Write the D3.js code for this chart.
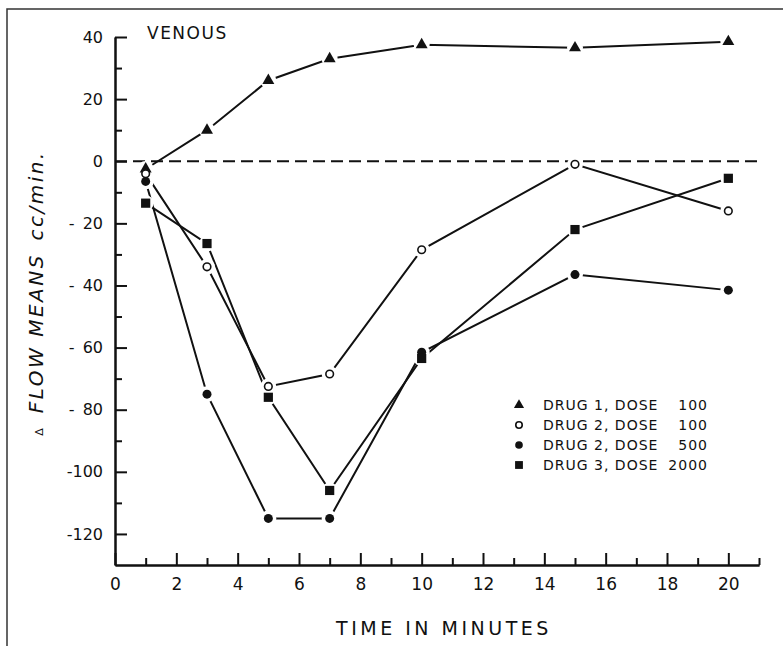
<!DOCTYPE html>
<html>
<head>
<meta charset="utf-8">
<script src="https://cdn.jsdelivr.net/npm/d3@7"></script>
<style>
  body { margin: 0; background: #fff; }
  svg { display: block; }
  text { font-family: "DejaVu Sans", sans-serif; fill: #111; }
</style>
</head>
<body>
<div id="chart"></div>
<script>
// time points (minutes)
const times = [1, 3, 5, 7, 10, 15, 20];

// change in flow, cc/min
const drug1Dose100  = [-2.5, 10, 26, 33, 37.5, 36.5, 38.5];
const drug2Dose100  = [-4, -34, -72.5, -68.5, -28.5, -1, -16];
const drug2Dose500  = [-6.5, -75, -115, -115, -61.5, -36.5, -41.5];
const drug3Dose2000 = [-13.5, -26.5, -76, -106, -63.5, -22, -5.5];

const seriesNames  = ['DRUG 1, DOSE', 'DRUG 2, DOSE', 'DRUG 2, DOSE', 'DRUG 3, DOSE'];
const seriesDoses  = ['100', '100', '500', '2000'];

const xTicks      = [0, 2, 4, 6, 8, 10, 12, 14, 16, 18, 20];
const xTickLabels = ['0', '2', '4', '6', '8', '10', '12', '14', '16', '18', '20'];
const yTicks      = [40, 20, 0, -20, -40, -60, -80, -100, -120];
const yTickLabels = ['40', '20', '0', '-\u200220', '-\u200240', '-\u200260', '-\u200280', '-100', '-120'];

const width = 783, height = 646;

const x = d3.scaleLinear().domain([0, 21]).range([115, 759]);
const y = d3.scaleLinear().domain([-130, 40]).range([565, 37]);

const svg = d3.select('#chart').append('svg')
    .attr('width', width)
    .attr('height', height);

svg.append('rect').attr('width', width).attr('height', height).attr('fill', '#fff');

// scanned frame: left and top edges only
svg.append('path')
    .attr('d', `M7,${height} V9 H${width}`)
    .attr('fill', 'none')
    .attr('stroke', '#333')
    .attr('stroke-width', 1.5);

// axes, ticks pointing inward
const yAxis = d3.axisLeft(y)
    .tickValues(yTicks)
    .tickFormat((d, i) => yTickLabels[i])
    .tickSizeInner(-12)
    .tickSizeOuter(0)
    .tickPadding(12);

const yMinor = d3.axisLeft(y)
    .tickValues(d3.range(-130, 40, 20).filter(v => v > -130))
    .tickFormat('')
    .tickSizeInner(-7)
    .tickSizeOuter(0);

const xAxis = d3.axisBottom(x)
    .tickValues(xTicks)
    .tickFormat((d, i) => xTickLabels[i])
    .tickSizeInner(-12)
    .tickSizeOuter(0)
    .tickPadding(13);

const xMinor = d3.axisBottom(x)
    .tickValues(d3.range(1, 22, 2))
    .tickFormat('')
    .tickSizeInner(-7)
    .tickSizeOuter(0);

function styleAxis(g, size) {
    g.select('.domain').attr('stroke', '#111').attr('stroke-width', 2);
    g.selectAll('.tick line').attr('stroke', '#111').attr('stroke-width', 2);
    g.selectAll('.tick text')
        .attr('font-size', size)
        .attr('font-family', '"DejaVu Sans", sans-serif')
        .attr('fill', '#111');
}

svg.append('g').attr('transform', `translate(${x(0)},0)`).call(yMinor).call(g => styleAxis(g, 16));
svg.append('g').attr('transform', `translate(${x(0)},0)`).call(yAxis).call(g => styleAxis(g, 16));
svg.append('g').attr('transform', `translate(0,${y(-130)})`).call(xMinor).call(g => styleAxis(g, 17));
svg.append('g').attr('transform', `translate(0,${y(-130)})`).call(xAxis).call(g => styleAxis(g, 17));

// zero reference
svg.append('line')
    .attr('x1', x(0)).attr('x2', x(21))
    .attr('y1', y(0)).attr('y2', y(0))
    .attr('stroke', '#111')
    .attr('stroke-width', 2)
    .attr('stroke-dasharray', '12,6');

const series = [
    { values: drug1Dose100,  shape: 'triangle' },
    { values: drug2Dose100,  shape: 'open' },
    { values: drug2Dose500,  shape: 'dot' },
    { values: drug3Dose2000, shape: 'square' }
];

const line = d3.line().x(d => x(d.t)).y(d => y(d.v));

series.forEach(s => {
    s.points = times.map((t, i) => ({ t: t, v: s.values[i] }));
    svg.append('path')
        .datum(s.points)
        .attr('d', line)
        .attr('fill', 'none')
        .attr('stroke', '#111')
        .attr('stroke-width', 2);
});

// white gap round every marker, as in the inked original
series.forEach(s => {
    svg.append('g').selectAll('circle')
        .data(s.points)
        .join('circle')
        .attr('cx', d => x(d.t))
        .attr('cy', d => y(d.v))
        .attr('r', 8)
        .attr('fill', '#fff');
});

function drawMarker(g, shape, scale) {
    if (shape === 'triangle') {
        g.append('path').attr('d', d3.symbol(d3.symbolTriangle, 62 * scale * scale)()).attr('fill', '#111');
    } else if (shape === 'open') {
        g.append('circle').attr('r', 3.8 * scale).attr('fill', '#fff').attr('stroke', '#111').attr('stroke-width', 1.6);
    } else if (shape === 'dot') {
        g.append('circle').attr('r', 4.5 * scale).attr('fill', '#111');
    } else {
        g.append('rect')
            .attr('x', -4.6 * scale).attr('y', -4.6 * scale)
            .attr('width', 9.2 * scale).attr('height', 9.2 * scale)
            .attr('fill', '#111');
    }
}

series.forEach(s => {
    s.points.forEach(p => {
        const g = svg.append('g').attr('transform', `translate(${x(p.t)},${y(p.v)})`);
        drawMarker(g, s.shape, 1);
    });
});

// legend
const legend = svg.append('g').attr('transform', 'translate(519,405)');
series.forEach((s, i) => {
    const row = legend.append('g').attr('transform', `translate(0,${i * 20})`);
    drawMarker(row, s.shape, 0.85);
    row.append('text')
        .attr('x', 24).attr('y', 5)
        .attr('font-size', 14)
        .attr('letter-spacing', 1)
        .text(seriesNames[i]);
    row.append('text')
        .attr('x', 189).attr('y', 5)
        .attr('text-anchor', 'end')
        .attr('font-size', 14)
        .attr('letter-spacing', 1)
        .text(seriesDoses[i]);
});

// titles
svg.append('text')
    .attr('x', 147).attr('y', 39)
    .attr('font-size', 17)
    .attr('letter-spacing', 1.5)
    .text('VENOUS');

svg.append('text')
    .attr('x', 444).attr('y', 635)
    .attr('text-anchor', 'middle')
    .attr('font-size', 19)
    .attr('letter-spacing', 3.5)
    .text('TIME IN MINUTES');

const yLabel = svg.append('text')
    .attr('transform', 'translate(43,293) rotate(-90)')
    .attr('text-anchor', 'middle')
    .attr('font-size', 20)
    .attr('font-style', 'italic')
    .attr('letter-spacing', 2.5);
yLabel.append('tspan').attr('font-size', 11).attr('font-style', 'normal').text('Δ');
yLabel.append('tspan').text('\u2002FLOW MEANS\u2002');
yLabel.append('tspan').text('cc/min.');
</script>
</body>
</html>
